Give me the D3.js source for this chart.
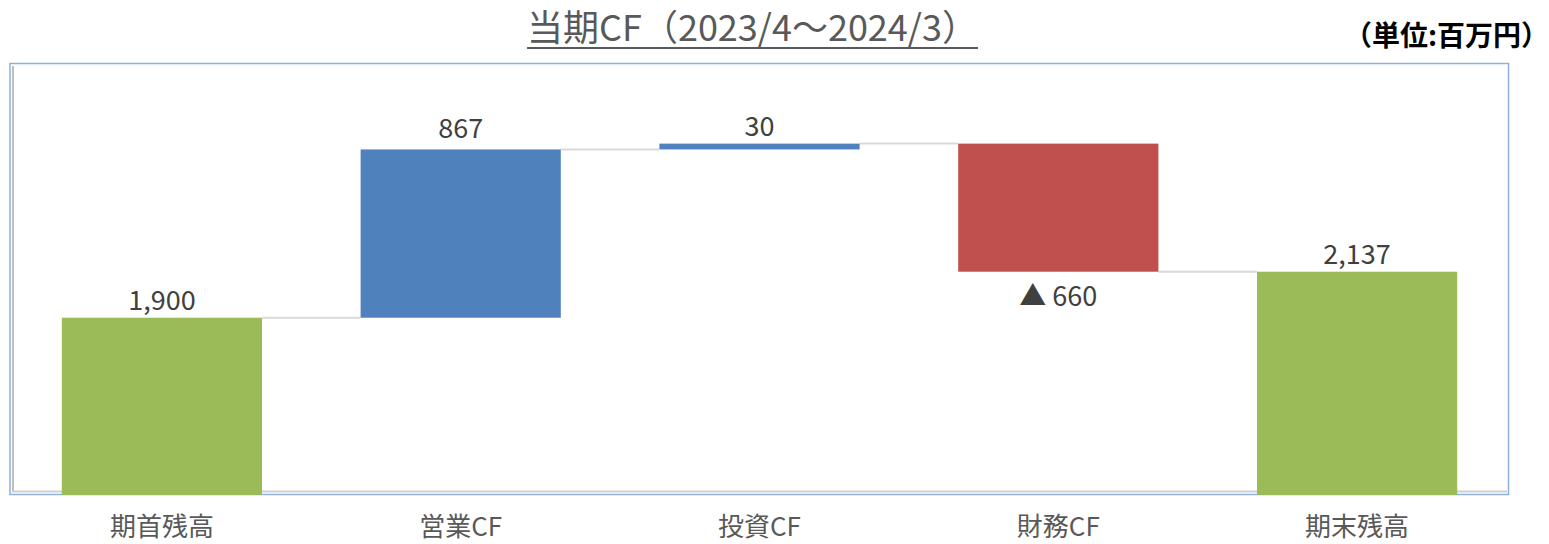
<!DOCTYPE html>
<html>
<head>
<meta charset="utf-8">
<script src="https://cdn.jsdelivr.net/npm/d3@7"></script>
<style>
  body { margin: 0; background: #fff; }
  svg { display: block; font-family: "Noto Sans CJK JP", "Noto Sans", sans-serif; }
</style>
</head>
<body>
<svg id="chart"></svg>
<script>
// data
const categories = ['期首残高', '営業CF', '投資CF', '財務CF', '期末残高'];
const amounts = [1900, 867, 30, -660, 2137];
const kinds = ['total', 'delta', 'delta', 'delta', 'total'];
const labels = ['1,900', '867', '30', '▲ 660', '2,137'];

const width = 1549, height = 544;
const svg = d3.select('#chart').attr('width', width).attr('height', height);

const colorUp = '#4f81bd', colorDown = '#c0504d', colorTotal = '#9bbb59';

const x = d3.scaleBand()
  .domain(categories)
  .range([12.5, 1506.5])
  .paddingInner(0.33)
  .paddingOuter(0.165);

const y = d3.scaleLinear()
  .domain([1000, 3200])
  .range([492.4, 65.4]);

const plotBottom = 495;

// running totals -> start / end for each bar
let run = 0;
const bars = categories.map((c, i) => {
  let start, end;
  if (kinds[i] === 'total') { start = null; end = amounts[i]; run = amounts[i]; }
  else { start = run; end = run + amounts[i]; run = end; }
  return { cat: c, start, end, amount: amounts[i], kind: kinds[i], label: labels[i] };
});

// frame
svg.append('rect')
  .attr('x', 10).attr('y', 63.5)
  .attr('width', 1498.5).attr('height', 431)
  .attr('fill', 'none').attr('stroke', '#8eb0dc').attr('stroke-width', 1.5);

// axis lines
svg.append('line')
  .attr('x1', 13).attr('x2', 13).attr('y1', 66).attr('y2', 491)
  .attr('stroke', '#bfbfbf').attr('stroke-width', 2);
svg.append('line')
  .attr('x1', 12).attr('x2', 1507).attr('y1', 491.5).attr('y2', 491.5)
  .attr('stroke', '#d0d0d0').attr('stroke-width', 2);

// connectors
const conn = svg.append('g');
bars.forEach((b, i) => {
  if (i === bars.length - 1) return;
  const next = bars[i + 1];
  conn.append('line')
    .attr('x1', x(b.cat) + x.bandwidth()).attr('x2', x(next.cat))
    .attr('y1', y(b.end)).attr('y2', y(b.end))
    .attr('stroke', '#d9d9d9').attr('stroke-width', 2);
});

// bars
svg.append('g').selectAll('rect')
  .data(bars)
  .join('rect')
  .attr('x', d => x(d.cat))
  .attr('width', x.bandwidth())
  .attr('y', d => d.kind === 'total' ? y(d.end) : y(Math.max(d.start, d.end)))
  .attr('height', d => d.kind === 'total' ? plotBottom - y(d.end) : Math.abs(y(d.start) - y(d.end)))
  .attr('fill', d => d.kind === 'total' ? colorTotal : (d.amount >= 0 ? colorUp : colorDown));

// value labels
svg.append('g').selectAll('text')
  .data(bars)
  .join('text')
  .attr('x', d => x(d.cat) + x.bandwidth() / 2)
  .attr('y', d => {
    if (d.amount < 0) return y(d.end) + 23;
    const off = d.kind === 'delta' && d.amount > 100 ? 23 : 19;
    return y(d.end) - off;
  })
  .attr('text-anchor', 'middle')
  .attr('dominant-baseline', 'central')
  .attr('font-size', 27)
  .attr('fill', '#404040')
  .text(d => d.label);

// category labels
svg.append('g').selectAll('text')
  .data(categories)
  .join('text')
  .attr('x', d => x(d) + x.bandwidth() / 2)
  .attr('y', 524)
  .attr('text-anchor', 'middle')
  .attr('dominant-baseline', 'central')
  .attr('font-size', 26)
  .attr('fill', '#595959')
  .text(d => d);

// title
const title = svg.append('text')
  .attr('x', 752.5).attr('y', 25)
  .attr('text-anchor', 'middle')
  .attr('dominant-baseline', 'central')
  .attr('font-size', 36)
  .attr('fill', '#595959')
  .text('当期CF（2023/4～2024/3）');
const tb = title.node().getBBox();
svg.append('line')
  .attr('x1', tb.x).attr('x2', tb.x + tb.width)
  .attr('y1', 48).attr('y2', 48)
  .attr('stroke', '#595959').attr('stroke-width', 2);

// unit
svg.append('text')
  .attr('x', 1549).attr('y', 34)
  .attr('text-anchor', 'end')
  .attr('dominant-baseline', 'central')
  .attr('font-size', 28)
  .attr('font-weight', 'bold')
  .attr('fill', '#000')
  .text('（単位:百万円）');
</script>
</body>
</html>
